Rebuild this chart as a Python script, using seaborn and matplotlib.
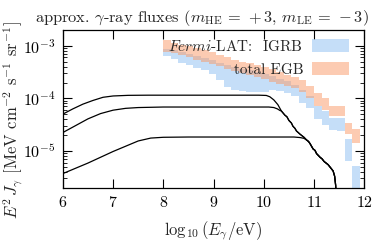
"""Approx. gamma-ray fluxes vs. Fermi-LAT IGRB / total EGB"""
import numpy as np
import pandas as pd
import matplotlib
matplotlib.use("Agg")
import matplotlib.pyplot as plt
import seaborn as sns
from matplotlib.patches import Patch

# Fermi-LAT energy bins, log10(E/eV)
bin_edges = [8.00, 8.15, 8.30, 8.45, 8.60, 8.75, 8.90, 9.05, 9.20, 9.35,
             9.50, 9.65, 9.80, 9.95, 10.10, 10.25, 10.40, 10.55, 10.70,
             10.85, 11.00, 11.15, 11.30, 11.45, 11.61, 11.76, 11.91]

# log10 band limits [MeV cm^-2 s^-1 sr^-1]
egb_hi = [-2.90, -2.94, -2.98, -3.00, -3.04, -3.08, -3.12, -3.17, -3.22, -3.27,
          -3.30, -3.33, -3.36, -3.40, -3.45, -3.50, -3.55, -3.59, -3.65, -3.77,
          -3.90, -4.00, -4.15, -4.15, -4.46, -4.59]
egb_lo = [-3.11, -3.14, -3.18, -3.22, -3.27, -3.30, -3.35, -3.39, -3.44, -3.48,
          -3.52, -3.56, -3.60, -3.64, -3.68, -3.72, -3.76, -3.80, -3.88, -3.99,
          -4.15, -4.22, -4.34, -4.34, -4.68, -4.84]
igrb_hi = [-3.06, -3.09, -3.12, -3.16, -3.20, -3.23, -3.28, -3.32, -3.36, -3.40,
           -3.44, -3.47, -3.50, -3.53, -3.58, -3.63, -3.67, -3.74, -3.84, -3.96,
           -4.15, -4.25, -4.37, -4.37, -4.78, -5.28]
igrb_lo = [-3.19, -3.25, -3.32, -3.37, -3.42, -3.46, -3.53, -3.66, -3.78, -3.84,
           -3.86, -3.87, -3.87, -3.87, -3.84, -3.86, -3.90, -3.96, -4.09, -4.18,
           -4.40, -4.50, -4.60, -4.62, -5.19, -5.75]

# model curves: individual low-energy parts + shared cutoff tail
top_x = [6.0, 6.2, 6.4, 6.6, 6.8, 7.0, 7.3, 7.7, 9.9, 10.05, 10.12, 10.2, 10.28]
top_y = [-4.30, -4.20, -4.11, -4.04, -3.98, -3.955, -3.943, -3.94, -3.94,
         -3.945, -3.97, -4.03, -4.12]
mid_x = [6.0, 6.25, 6.5, 6.75, 7.0, 7.25, 7.5, 8.0, 10.1, 10.2, 10.27, 10.32]
mid_y = [-4.65, -4.52, -4.39, -4.29, -4.225, -4.19, -4.175, -4.165, -4.165,
         -4.175, -4.20, -4.23]
low_x = [6.0, 6.25, 6.5, 6.75, 7.0, 7.25, 7.5, 7.75, 8.0, 8.5, 10.6, 10.72, 10.8]
low_y = [-5.43, -5.33, -5.23, -5.12, -5.01, -4.91, -4.81, -4.755, -4.74,
         -4.735, -4.735, -4.745, -4.76]

tail_x = [10.35, 10.42, 10.46, 10.50, 10.55, 10.58, 10.62, 10.65, 10.72,
          10.76, 10.80, 10.85, 10.89, 10.92, 10.98, 11.02, 11.05, 11.12,
          11.16, 11.20, 11.28, 11.33, 11.38, 11.41, 11.43, 11.45]
tail_y = [-4.24, -4.32, -4.35, -4.42, -4.47, -4.53, -4.57, -4.62, -4.68,
          -4.71, -4.74, -4.79, -4.82, -4.86, -4.96, -4.99, -5.05, -5.12,
          -5.15, -5.20, -5.26, -5.32, -5.38, -5.48, -5.65, -6.00]
tail_start = {"top": 0, "mid": 0, "low": 11}

sns.set_theme(style="ticks")
plt.rcParams["font.family"] = ["serif"]
plt.rcParams["font.serif"] = ["cmr10", "DejaVu Serif"]
plt.rcParams["mathtext.fontset"] = "cm"
plt.rcParams["axes.unicode_minus"] = False
plt.rcParams["axes.formatter.use_mathtext"] = True

fig = plt.figure(figsize=(3.74, 2.49), dpi=100)
ax = fig.add_axes([0.168, 0.246, 0.806, 0.634])

blue = (0.55, 0.75, 0.95)
orange = (0.98, 0.60, 0.40)

lo = np.array(bin_edges[:-1])
w = np.diff(bin_edges)
ax.bar(lo, 10**np.array(igrb_hi) - 10**np.array(igrb_lo), width=w,
       bottom=10**np.array(igrb_lo), align="edge", color=blue, alpha=0.5, lw=0)
ax.bar(lo, 10**np.array(egb_hi) - 10**np.array(egb_lo), width=w,
       bottom=10**np.array(egb_lo), align="edge", color=orange, alpha=0.5, lw=0)

rows = []
for name, hx, hy in [("top", top_x, top_y), ("mid", mid_x, mid_y), ("low", low_x, low_y)]:
    s = tail_start[name]
    xs = hx + tail_x[s:]
    ys = hy + tail_y[s:]
    rows.append(pd.DataFrame({"x": xs, "y": 10**np.array(ys), "curve": name}))
df = pd.concat(rows, ignore_index=True)
sns.lineplot(data=df, x="x", y="y", units="curve", estimator=None, sort=False,
             color="black", lw=0.9, ax=ax)

ax.set_yscale("log")
ax.set_xlim(6, 12)
ax.set_ylim(2e-6, 2e-3)
ax.set_xticks([6, 7, 8, 9, 10, 11, 12])
ax.tick_params(which="both", direction="in", top=True, right=True,
               labelsize=11.5, colors="black")
ax.tick_params(which="major", length=6.5, width=0.8, pad=5)
ax.tick_params(which="minor", length=3, width=0.6)
ax.tick_params(axis="x", which="minor", bottom=False, top=False)
for sp in ax.spines.values():
    sp.set_color("black")
    sp.set_linewidth(0.9)

ax.set_xlabel(r"$\log_{10}(E_\gamma/\mathrm{eV})$", fontsize=12, labelpad=7)
ax.set_ylabel(r"$E^2\,J_\gamma$ [MeV cm$^{-2}$ s$^{-1}$ sr$^{-1}$]",
              fontsize=12, labelpad=1)
ax.yaxis.set_label_coords(-0.125, 0.43)
ax.set_title(r"approx. $\gamma$-ray fluxes ($m_{\rm HE}\,=\,+3$, $m_{\rm LE}\,=\,-3$)",
             fontsize=11.8, pad=6, x=0.46)

handles = [Patch(facecolor=blue, alpha=0.5, lw=0),
           Patch(facecolor=orange, alpha=0.5, lw=0)]
labels = [r"$\mathit{Fermi}$-LAT:  IGRB", "total EGB"]
ax.legend(handles, labels, loc="upper right", frameon=False, markerfirst=False,
          fontsize=11, handlelength=2.4, handleheight=0.9, labelspacing=0.55,
          handletextpad=0.6, borderaxespad=0.2, bbox_to_anchor=(0.98, 1.0))
ax.set_facecolor("none")

fig.savefig("out.png", dpi=100)
